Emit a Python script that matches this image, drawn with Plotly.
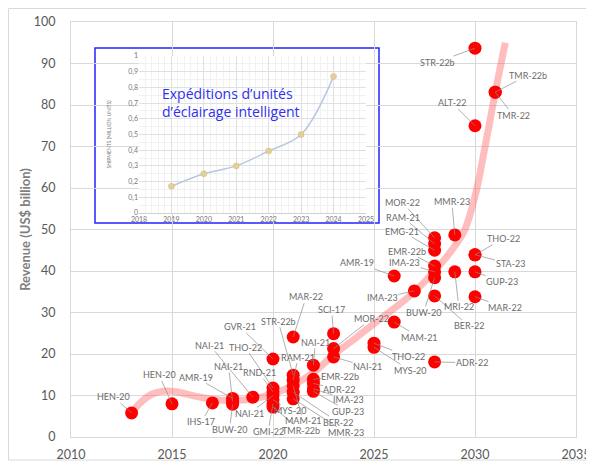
import plotly.graph_objects as go

# ---------------- data ----------------
company_years = [2013, 2015, 2017, 2018, 2018, 2018, 2019,
                 2020, 2020, 2020, 2020, 2020, 2020, 2020,
                 2021, 2021, 2021, 2021, 2021, 2021,
                 2022, 2022, 2022, 2022, 2022,
                 2023, 2023, 2023, 2025, 2025,
                 2026, 2026, 2027,
                 2028, 2028, 2028, 2028, 2028, 2028, 2028, 2028,
                 2029, 2029, 2030, 2030, 2030, 2030, 2030, 2030, 2031, 2031]
company_revenue = [5.8, 8.0, 8.2, 9.3, 8.6, 7.9, 9.6,
                   18.8, 11.8, 10.9, 10.0, 9.0, 8.0, 7.2,
                   24.1, 14.9, 13.7, 12.3, 10.8, 9.2,
                   17.3, 13.9, 12.9, 11.6, 11.0,
                   24.9, 21.3, 19.3, 22.6, 21.6,
                   38.8, 27.7, 35.2,
                   48.0, 46.5, 45.0, 41.2, 39.8, 38.4, 34.0, 18.1,
                   48.7, 39.8, 43.9, 43.9, 39.8, 33.8, 93.7, 75.0, 83.1, 83.1]
company_labels = ["HEN-20", "HEN-20", "IHS-17", "AMR-19", "NAI-21", "BUW-20", "NAI-21",
                  "GVR-21", "THO-22", "RND-21", "NAI-21", "MYS-20", "GMI-22", "TMR-22b",
                  "MAR-22", "STR-22b", "RAM-21", "MAM-21", "BER-22", "MMR-23",
                  "NAI-21", "EMR-22b", "ADR-22", "IMA-23", "GUP-23",
                  "SCI-17", "MOR-22", "NAI-21", "THO-22", "MYS-20",
                  "AMR-19", "MAM-21", "IMA-23",
                  "MOR-22", "RAM-21", "EMG-21", "EMR-22b", "IMA-23", "BUW-20", "BER-22", "ADR-22",
                  "MMR-23", "MRI-22", "THO-22", "STA-23", "GUP-23", "MAR-22", "STR-22b", "ALT-22",
                  "TMR-22b", "TMR-22"]

trend_years = [2013, 2013.5, 2014, 2014.5, 2015, 2015.5, 2016, 2017, 2018, 2019, 2020,
               2021, 2022, 2023, 2024, 2025, 2026, 2027, 2028, 2029, 2029.5, 2030,
               2030.5, 2031, 2031.5]
trend_values = [5.8, 8.6, 10.3, 11.0, 11.0, 10.6, 10.0, 9.1, 8.8, 9.2, 10.4,
                12.5, 15.5, 19.8, 23.5, 27.3, 31.0, 35.0, 40.0, 46.0, 50.0, 58.0,
                70.0, 83.0, 95.0]

ship_years = [2019, 2020, 2021, 2022, 2023, 2024]
ship_values = [0.17, 0.25, 0.30, 0.395, 0.50, 0.87]
ship_tickvals = [0, 0.1, 0.2, 0.3, 0.4, 0.5, 0.6, 0.7, 0.8, 0.9, 1]
ship_ticktext = ["0", "0,1", "0,2", "0,3", "0,4", "0,5", "0,6", "0,7", "0,8", "0,9", "1"]

# label placement (pixel offsets of each label from its point) - layout only
label_offsets = [(-18, -16), (-13, -29), (-11, 19), (-37, -21), (-4, -35), (-3, 25), (-43, -52),
                 (-33, -32), (-28, -41), (-14, -19), (-24, 18), (17, 11), (-5, 28), (28, 23),
                 (13, -40), (-15, -54), (5, -23), (10, 35), (45, 30), (53, 34),
                 (2, -23), (27, -3), (26, 6), (35, 11), (35, 20),
                 (-2, -24), (38, -30), (34, 10), (34, 13), (36, 23),
                 (-37, -13), (25, 15), (-32, 7),
                 (-32, -35), (-32, -27), (-33, -19), (-28, -15), (-30, -9), (-11, 35), (34, 30), (37, 1),
                 (-3, -33), (4, 35), (28, -16), (35, 9), (27, 10), (30, 11), (-38, 14), (-23, -23),
                 (33, -17), (18, 23)]

FONT = "Lato, 'Open Sans', sans-serif"
GRID = "#d9d9d9"
TXT = "#595959"

fig = go.Figure()

fig.add_trace(go.Scatter(
    x=trend_years, y=trend_values, mode="lines",
    line=dict(color="rgba(255,90,90,0.40)", width=7, shape="spline", smoothing=1.0),
    hoverinfo="skip", showlegend=False))

fig.add_trace(go.Scatter(
    x=company_years, y=company_revenue, mode="markers",
    marker=dict(color="#ff0000", size=13, line=dict(width=0)),
    text=company_labels, showlegend=False))

annotations = []
for xv, yv, lab, (dx, dy) in zip(company_years, company_revenue, company_labels, label_offsets):
    annotations.append(dict(
        x=xv, y=yv, xref="x", yref="y", text=lab, showarrow=True,
        ax=dx, ay=dy, arrowhead=0, arrowwidth=0.7, arrowcolor="#8c8c8c",
        standoff=0, startstandoff=0, borderpad=0,
        font=dict(family=FONT, size=9, color="#6b6b6b")))

# inset chart
fig.add_trace(go.Scatter(
    x=ship_years, y=ship_values, mode="lines+markers", xaxis="x2", yaxis="y2",
    line=dict(color="#b8c7e2", width=1.5, shape="spline"),
    marker=dict(color="#e3cf9a", size=6, line=dict(color="#d2b878", width=0.5)),
    showlegend=False))

annotations.append(dict(
    x=0.176, y=0.855, xref="paper", yref="paper", xanchor="left", yanchor="top",
    align="left", showarrow=False,
    text="Expéditions d’unités<br>d’éclairage intelligent",
    font=dict(family="'Open Sans', Lato, sans-serif", size=14, color="#2f2ff0")))

# plot area in reference-picture pixels: x 71..576, y 22..437
# the page shows the figure offset by the browser's 8px body margin
OFF = 8
PW, PH = 505, 415
REF_L, REF_T = 71, 22
L, T = REF_L - OFF, REF_T - OFF
W, H = 594 - OFF, 464 - OFF

def px(xp):
    return (xp - REF_L) / PW

def py(yp):
    return (REF_T + PH - yp) / PH

shapes = [
    dict(type="rect", xref="paper", yref="paper",
         x0=px(8.5), x1=px(591), y0=py(460), y1=py(8.5),
         line=dict(color="#d9d9d9", width=1), fillcolor="rgba(0,0,0,0)", layer="below"),
    dict(type="rect", xref="paper", yref="paper",
         x0=px(95), x1=px(379), y0=py(223), y1=py(48),
         line=dict(color="#2323ff", width=1.5), fillcolor="white", layer="between"),
]

fig.update_layout(
    width=W, height=H,
    margin=dict(l=L, r=W - L - PW, t=T, b=H - T - PH, autoexpand=False),
    paper_bgcolor="white", plot_bgcolor="white",
    font=dict(family=FONT, color=TXT),
    annotations=annotations, shapes=shapes,
    xaxis=dict(range=[2010, 2035], dtick=5, tick0=2010, showgrid=True, gridcolor=GRID,
               zeroline=False, showline=True, linecolor=GRID, mirror=True, automargin=False,
               ticks="", tickfont=dict(size=12.5, color=TXT, family=FONT),
               ticklabelstandoff=6),
    yaxis=dict(range=[0, 100], dtick=10, showgrid=True, gridcolor=GRID,
               zeroline=False, showline=True, linecolor=GRID, mirror=True, automargin=False,
               ticks="", tickfont=dict(size=12.5, color=TXT, family=FONT),
               ticklabelstandoff=12,
               title=dict(text="<b>Revenue (US$ billion)</b>", standoff=0,
                          font=dict(size=13, color="#7f7f7f", family=FONT))),
    xaxis2=dict(domain=[px(139), px(366)], anchor="y2", range=[2018, 2025], dtick=1,
                showgrid=True, gridcolor="#e0e0e0", zeroline=False, automargin=False,
                showline=True, linecolor="#d0d0d0",
                tickfont=dict(size=7, color="#777777", family=FONT), ticks="",
                minor=dict(showgrid=True, gridcolor="#f1f1f1", nticks=5)),
    yaxis2=dict(domain=[py(213), py(56)], anchor="x2", range=[0, 1], automargin=False,
                tickvals=ship_tickvals, ticktext=ship_ticktext,
                showgrid=True, gridcolor="#e0e0e0", zeroline=False,
                tickfont=dict(size=7, color="#777777", family=FONT), ticks="",
                minor=dict(showgrid=True, gridcolor="#f1f1f1", nticks=5),
                title=dict(text="SHIPMENTS (MILLION UNITS)", standoff=16,
                           font=dict(size=5, color="#777777", family=FONT))),
)

fig.write_html("out.html")
